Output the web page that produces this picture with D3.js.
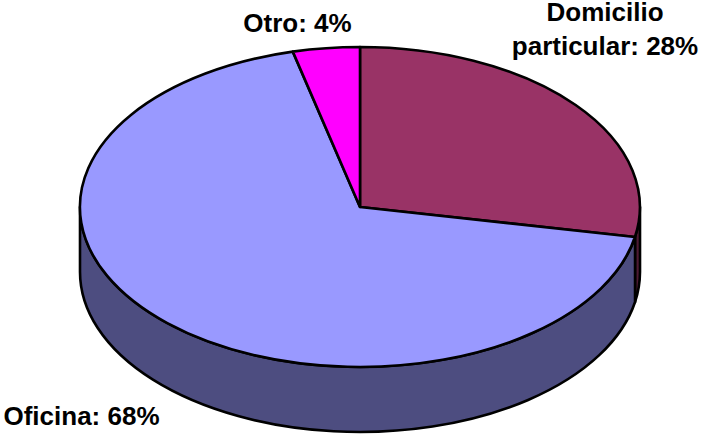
<!DOCTYPE html>
<html>
<head>
<meta charset="utf-8">
<script src="https://cdn.jsdelivr.net/npm/d3@7"></script>
<style>
html,body{margin:0;padding:0;background:#fff;overflow:hidden}
svg{display:block}
text{font-family:"Liberation Sans",Arial,sans-serif;font-weight:bold;font-size:26px;fill:#000}
</style>
</head>
<body>
<svg id="chart" width="702" height="437"></svg>
<script>
const categories = ["Domicilio particular", "Oficina", "Otro"];
const shares = [28, 68.15, 3.85];
const topColors = ["#993366", "#9999ff", "#ff00ff"];
const sideColors = ["#4d1a33", "#4d4d80", "#800080"];
const labelLines = [["Domicilio", "particular: 28%"], ["Oficina: 68%"], ["Otro: 4%"]];

const svg = d3.select("#chart");
const sx = d3.scaleLinear().domain([-1, 1]).range([80, 640]);
const sy = d3.scaleLinear().domain([-1, 1]).range([47, 367]);
const depth = 65;

const pie = d3.pie().value(d => d).sort(null);
const arcs = pie(shares);

const px = a => sx(Math.sin(a));
const py = a => sy(-Math.cos(a));

// Side wall: visible between angles PI/2 and 3PI/2 (front half)
function wallPath(a0, a1) {
  const lo = Math.max(a0, Math.PI / 2), hi = Math.min(a1, 3 * Math.PI / 2);
  if (hi <= lo) return null;
  const rx = (sx(1) - sx(-1)) / 2, ry = (sy(1) - sy(-1)) / 2;
  const seg = (from, to, dy) => {
    const large = Math.abs(to - from) > Math.PI ? 1 : 0;
    return `A${rx},${ry} 0 ${large} ${to > from ? 1 : 0} ${px(to)},${py(to) + dy}`;
  };
  return `M${px(lo)},${py(lo)}L${px(lo)},${py(lo) + depth}` + seg(lo, hi, depth) +
         `L${px(hi)},${py(hi)}` + seg(hi, lo, 0) + "Z";
}

const stroke = "#000", sw = 2.6;

svg.append("g").selectAll("path")
  .data(arcs)
  .join("path")
  .attr("d", d => wallPath(d.startAngle, d.endAngle))
  .attr("fill", (d, i) => sideColors[i])
  .attr("stroke", stroke)
  .attr("stroke-width", sw)
  .attr("stroke-linejoin", "round");

const unitArc = d3.arc().innerRadius(0).outerRadius(1);
svg.append("g")
  .attr("transform", `translate(${sx(0)},${sy(0)}) scale(${(sx(1) - sx(-1)) / 2},${(sy(1) - sy(-1)) / 2})`)
  .selectAll("path")
  .data(arcs)
  .join("path")
  .attr("d", unitArc)
  .attr("fill", (d, i) => topColors[i])
  .attr("stroke", stroke)
  .attr("stroke-width", sw)
  .attr("stroke-linejoin", "round")
  .attr("vector-effect", "non-scaling-stroke");

const labelAnchors = [[605, 20.5], [81.5, 425], [297.5, 32]];
const lineHeight = 34.5;
const labels = svg.append("g").selectAll("text")
  .data(labelLines)
  .join("text")
  .attr("text-anchor", "middle")
  .attr("transform", (d, i) => `translate(${labelAnchors[i][0]},${labelAnchors[i][1]})`);
labels.selectAll("tspan")
  .data(d => d)
  .join("tspan")
  .attr("x", 0)
  .attr("y", (d, j) => j * lineHeight)
  .text(d => d);
</script>
</body>
</html>
